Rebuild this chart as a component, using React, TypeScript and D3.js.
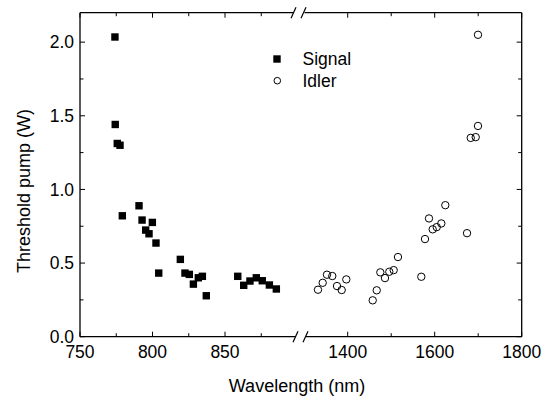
import React from "react";
import * as d3 from "d3";

const signalWl = [774.1, 774.3, 775.7, 777.6, 779.2, 790.7, 792.8, 795.3, 797.6, 799.9, 802.4, 804.3, 819.2, 822.4, 825.4, 828.2, 831.6, 834.4, 837.1, 858.8, 862.9, 867.2, 871.6, 875.7, 880.6, 885.4];
const signalP = [2.035, 1.441, 1.312, 1.3, 0.821, 0.889, 0.792, 0.724, 0.699, 0.776, 0.636, 0.432, 0.525, 0.432, 0.423, 0.357, 0.4, 0.41, 0.278, 0.41, 0.349, 0.378, 0.4, 0.38, 0.351, 0.324];
const idlerWl = [1331.7, 1342.5, 1352.4, 1364.6, 1375.4, 1386.2, 1396.8, 1457.5, 1466.7, 1475, 1485.7, 1495.6, 1505.7, 1515.6, 1569.2, 1577.7, 1586.9, 1595.4, 1604.6, 1615.2, 1624.4, 1674.3, 1699.5, 1699.5, 1682.8, 1694.3];
const idlerP = [0.319, 0.366, 0.421, 0.412, 0.344, 0.317, 0.389, 0.247, 0.315, 0.437, 0.398, 0.441, 0.452, 0.541, 0.407, 0.663, 0.803, 0.729, 0.744, 0.769, 0.893, 0.703, 2.05, 1.431, 1.35, 1.355];

const leftMajor = [750, 800, 850];
const leftMinor = [775, 825, 875];
const rightMajor = [1400, 1600, 1800];
const rightMinor = [1500, 1700];
const yMajor = [0, 0.5, 1.0, 1.5, 2.0];
const yMinor = [0.25, 0.75, 1.25, 1.75];

const L = 80, R = 521.7, T = 12.7, B = 336.7;
const BRK = 299.5;

export default function App() {
  const xl = d3.scaleLinear().domain([750, 900]).range([L, 297.5]);
  const xr = d3.scaleLinear().domain([1400, 1800]).range([347.7, R]);
  const y = d3.scaleLinear().domain([0, 2.2]).range([B, T]);
  const font = "'Liberation Sans', Arial, sans-serif";
  const sq = 7.4;
  const fmt = d3.format(".1f");

  const xTicks: { x: number; major: boolean }[] = [
    ...leftMajor.map((v) => ({ x: xl(v), major: true })),
    ...leftMinor.map((v) => ({ x: xl(v), major: false })),
    ...rightMajor.map((v) => ({ x: xr(v), major: true })),
    ...rightMinor.map((v) => ({ x: xr(v), major: false })),
  ];
  const yTicks = [
    ...yMajor.map((v) => ({ y: y(v), major: true })),
    ...yMinor.map((v) => ({ y: y(v), major: false })),
  ];
  const slash = (cx: number, cy: number, k: number) => (
    <line key={k} x1={cx - 2.5} y1={cy + 5.5} x2={cx + 2.5} y2={cy - 5.5} stroke="#000" strokeWidth={1.2} />
  );

  return (
    <svg width={548} height={402} style={{ position: "absolute", left: 0, top: 0, background: "#fff" }}>
      <rect x={0} y={0} width={548} height={402} fill="#fff" />
      <g stroke="#000" strokeWidth={1.3} fill="none">
        <line x1={L} y1={T} x2={L} y2={B} />
        <line x1={R} y1={T} x2={R} y2={B} />
        <line x1={L} y1={T} x2={BRK - 6} y2={T} />
        <line x1={BRK + 5} y1={T} x2={R} y2={T} />
        <line x1={L} y1={B} x2={BRK - 4} y2={B} />
        <line x1={BRK + 6} y1={B} x2={R} y2={B} />
      </g>
      {slash(BRK - 6, T, 1)}
      {slash(BRK + 4, T, 2)}
      {slash(BRK - 4, B, 3)}
      {slash(BRK + 6, B, 4)}
      <g stroke="#000" strokeWidth={1}>
        {xTicks.map((t, i) => (
          <g key={i}>
            <line x1={t.x} y1={B} x2={t.x} y2={B - (t.major ? 5 : 3.5)} />
            <line x1={t.x} y1={T} x2={t.x} y2={T + (t.major ? 5 : 3.5)} />
          </g>
        ))}
        {yTicks.map((t, i) => (
          <g key={i}>
            <line x1={L} y1={t.y} x2={L + (t.major ? 5 : 3.5)} y2={t.y} />
            <line x1={R} y1={t.y} x2={R - (t.major ? 5 : 3.5)} y2={t.y} />
          </g>
        ))}
      </g>
      <g fontFamily={font} fontSize={17.5} fill="#000">
        {leftMajor.map((v) => (
          <text key={v} x={xl(v)} y={358} textAnchor="middle">{v}</text>
        ))}
        {rightMajor.map((v) => (
          <text key={v} x={xr(v)} y={358} textAnchor="middle">{v}</text>
        ))}
        {yMajor.map((v) => (
          <text key={v} x={74} y={y(v) + 6.3} textAnchor="end">{fmt(v)}</text>
        ))}
      </g>
      <text x={297} y={391.5} textAnchor="middle" fontFamily={font} fontSize={18}>Wavelength (nm)</text>
      <text transform={`translate(30,191) rotate(-90)`} textAnchor="middle" fontFamily={font} fontSize={18}>Threshold pump (W)</text>
      <g fill="#000">
        {signalWl.map((w, i) => (
          <rect key={i} x={xl(w) - sq / 2} y={y(signalP[i]) - sq / 2} width={sq} height={sq} />
        ))}
      </g>
      <g fill="none" stroke="#000" strokeWidth={1}>
        {idlerWl.map((w, i) => (
          <circle key={i} cx={xr(w)} cy={y(idlerP[i])} r={3.7} />
        ))}
      </g>
      <rect x={277 - 3.7} y={59 - 3.7} width={7.4} height={7.4} fill="#000" />
      <circle cx={277.3} cy={80.7} r={3.3} fill="none" stroke="#000" strokeWidth={1} />
      <text x={302.5} y={65.2} fontFamily={font} fontSize={17.5}>Signal</text>
      <text x={302.5} y={86.8} fontFamily={font} fontSize={17.5}>Idler</text>
    </svg>
  );
}
